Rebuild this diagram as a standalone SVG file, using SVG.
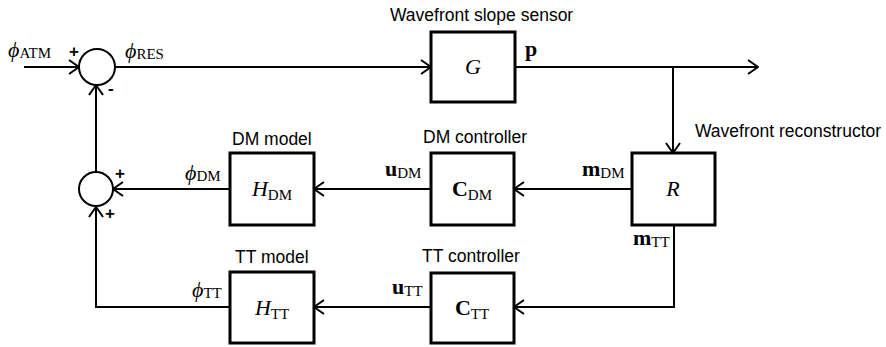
<svg xmlns="http://www.w3.org/2000/svg" width="886" height="347" viewBox="0 0 886 347">
<defs>
<marker id="arr" viewBox="0 0 12 16" refX="11" refY="8" markerWidth="12" markerHeight="16" markerUnits="userSpaceOnUse" orient="auto">
<path d="M1,1 L11,8 L1,15" fill="none" stroke="#000" stroke-width="2"/>
</marker>
</defs>
<style>
.box{fill:#fff;stroke:#000;stroke-width:3}
.sum{fill:#fff;stroke:#000;stroke-width:2}
.ln{fill:none;stroke:#000;stroke-width:2}
.arr{marker-end:url(#arr)}
.lbl{font-family:"Liberation Sans",Arial,sans-serif;font-size:17.5px;fill:#000}
.sg{font-family:"Liberation Sans",Arial,sans-serif;font-size:17px;font-weight:bold;fill:#000}
.m{font-family:"Liberation Serif","Times New Roman",serif;font-size:22px;fill:#000}
.sub{font-size:15px;font-style:normal;font-weight:normal}
.it{font-style:italic}
.b{font-weight:bold}
</style>
<rect width="886" height="347" fill="#fff"/>
<g id="connectors">
<path class="ln arr" d="M24,67 H79"/>
<path class="ln arr" d="M115,67 H431"/>
<path class="ln arr" d="M515,67 H758"/>
<path class="ln arr" d="M673,67 V153"/>
<path class="ln arr" d="M632,189 H514"/>
<path class="ln arr" d="M431,189 H314"/>
<path class="ln arr" d="M230,189 H113"/>
<path class="ln arr" d="M96,172 V85"/>
<path class="ln arr" d="M674,225 V307 H514"/>
<path class="ln arr" d="M431,307 H314"/>
<path class="ln arr" d="M230,307 H96 V207"/>
</g>
<g id="sum1">
<circle class="sum" cx="97" cy="67" r="18"/>
<text class="sg" x="69" y="57">+</text>
<text class="sg" x="108" y="94">-</text>
</g>
<g id="sum2">
<circle class="sum" cx="96" cy="189" r="17"/>
<text class="sg" x="115" y="179">+</text>
<text class="sg" x="105" y="219">+</text>
</g>
<g id="G">
<rect class="box" x="431" y="32" width="84" height="70"/>
<text class="m it" x="473" y="74" text-anchor="middle">G</text>
<text class="lbl" x="390" y="21">Wavefront slope sensor</text>
</g>
<g id="R">
<rect class="box" x="632" y="153" width="83" height="72"/>
<text class="m it" x="673" y="196" text-anchor="middle">R</text>
<text class="lbl" x="695" y="137">Wavefront reconstructor</text>
</g>
<g id="CDM">
<rect class="box" x="431" y="153" width="83" height="72"/>
<text class="m b" x="472" y="196" text-anchor="middle">C<tspan class="sub" dy="4">DM</tspan></text>
<text class="lbl" x="423" y="143">DM controller</text>
</g>
<g id="HDM">
<rect class="box" x="230" y="153" width="84" height="72"/>
<text class="m it" x="272" y="196" text-anchor="middle">H<tspan class="sub" dy="4">DM</tspan></text>
<text class="lbl" x="232" y="145">DM model</text>
</g>
<g id="CTT">
<rect class="box" x="431" y="273" width="83" height="70"/>
<text class="m b" x="472" y="315" text-anchor="middle">C<tspan class="sub" dy="4">TT</tspan></text>
<text class="lbl" x="422" y="262">TT controller</text>
</g>
<g id="HTT">
<rect class="box" x="230" y="272" width="84" height="71"/>
<text class="m it" x="272" y="315" text-anchor="middle">H<tspan class="sub" dy="4">TT</tspan></text>
<text class="lbl" x="235" y="263">TT model</text>
</g>
<g id="labels">
<text class="m it" x="8" y="57">ϕ<tspan class="sub" dy="1">ATM</tspan></text>
<text class="m it" x="125" y="58">ϕ<tspan class="sub" dy="1">RES</tspan></text>
<text class="m b" x="525" y="56" font-size="19">p</text>
<text class="m b" x="582" y="176" font-size="20">m<tspan class="sub" dy="2">DM</tspan></text>
<text class="m b" x="385" y="176" font-size="20">u<tspan class="sub" dy="2">DM</tspan></text>
<text class="m it" x="185" y="180">ϕ<tspan class="sub" dy="1">DM</tspan></text>
<text class="m b" x="633" y="245" font-size="20">m<tspan class="sub" dy="2">TT</tspan></text>
<text class="m b" x="392" y="294" font-size="20">u<tspan class="sub" dy="2">TT</tspan></text>
<text class="m it" x="192" y="297">ϕ<tspan class="sub" dy="1">TT</tspan></text>
</g>
</svg>
